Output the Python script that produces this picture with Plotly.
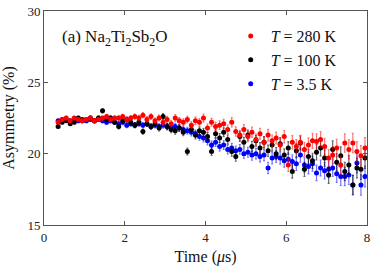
import plotly.graph_objects as go

time_us = [0.35, 0.45, 0.55, 0.65, 0.75, 0.85, 0.95, 1.05, 1.15, 1.25, 1.35, 1.45, 1.55, 1.65, 1.75,
           1.85, 1.95, 2.05, 2.15, 2.25, 2.35, 2.45, 2.55, 2.65, 2.75, 2.85, 2.95, 3.05, 3.15, 3.25,
           3.35, 3.45, 3.55, 3.65, 3.75, 3.85, 3.95, 4.05, 4.15, 4.25, 4.35, 4.45, 4.55, 4.65, 4.75,
           4.85, 4.95, 5.05, 5.15, 5.25, 5.35, 5.45, 5.55, 5.65, 5.75, 5.85, 5.95, 6.05, 6.15, 6.25,
           6.35, 6.45, 6.55, 6.65, 6.75, 6.85, 6.95, 7.05, 7.15, 7.25, 7.35, 7.45, 7.55, 7.65, 7.75,
           7.85, 7.95]

asym_280K = [22.2, 22.4, 22.5, 22.3, 22.5, 22.4, 22.3, 22.4, 22.5, 22.3, 22.4, 22.5, 22.6, 22.4, 22.5,
             22.5, 22.6, 22.4, 22.5, 22.6, 22.5, 22.7, 22.4, 22.6, 22.3, 22.5, 22.2, 22.4, 22.1, 22.5,
             22.3, 22.2, 22.4, 22.0, 22.3, 22.2, 22.5, 21.8, 22.2, 21.9, 22.0, 22.1, 21.7, 22.2, 21.55,
             21.3, 21.7, 21.2, 21.5, 21.0, 21.4, 20.8, 21.3, 20.9, 21.1, 20.6, 21.2, 19.2, 20.8, 20.5,
             20.8, 20.3, 20.6, 20.9, 20.85, 21.0, 20.5, 19.7, 19.9, 20.4, 19.2, 20.75, 20.3, 20.75, 20.15,
             19.85, 20.4]

asym_100K = [21.9, 22.2, 22.3, 22.1, 22.2, 22.5, 22.3, 22.4, 22.5, 22.3, 22.5, 23.0, 22.4, 22.5, 22.2,
             21.9, 22.3, 22.4, 22.2, 22.0, 22.2, 21.55, 22.1, 21.9, 22.1, 21.8, 22.6, 21.9, 21.7, 21.6,
             21.8, 21.5, 20.15, 21.7, 21.3, 21.6, 21.5, 21.2, 20.15, 21.4, 21.1, 21.5, 21.0, 20.15, 19.8,
             21.2, 20.8, 21.3, 20.5, 20.9, 20.4, 20.8, 20.2, 20.6, 20.0, 20.7, 19.9, 20.4, 18.75, 20.2,
             20.75, 18.9, 19.8, 19.5, 20.1, 20.4, 19.7, 18.5, 20.3, 19.4, 19.85, 18.75, 19.2, 17.8, 19.0,
             18.9, 19.7]

asym_3p5K = [22.3, 22.4, 22.4, 22.3, 22.4, 22.3, 22.4, 22.3, 22.4, 22.3, 22.4, 22.3, 22.2, 22.3, 22.2,
             22.1, 22.2, 22.0, 22.1, 22.0, 22.1, 22.0, 22.1, 21.9, 22.0, 21.9, 22.0, 21.9, 21.8, 21.9,
             21.8, 21.7, 21.6, 21.5, 21.4, 21.2, 21.1, 20.9, 20.6, 20.8, 20.5, 20.6, 20.3, 20.4, 20.2,
             20.3, 20.0, 20.1, 19.9, 20.0, 19.8, 19.9, 19.0, 19.7, 19.8, 19.7, 19.5, 19.6, 19.45, 19.3,
             19.9, 19.2, 19.1, 19.3, 18.65, 19.0, 18.8, 18.9, 19.0, 18.6, 18.4, 18.4, 18.5, 17.8, 19.35,
             17.8, 18.4]

asym_err = [0.11, 0.11, 0.11, 0.12, 0.12, 0.12, 0.13, 0.13, 0.13, 0.14, 0.14, 0.14, 0.15, 0.15, 0.15,
            0.16, 0.16, 0.17, 0.17, 0.18, 0.18, 0.18, 0.19, 0.19, 0.20, 0.20, 0.21, 0.21, 0.22, 0.23,
            0.23, 0.24, 0.24, 0.25, 0.26, 0.26, 0.27, 0.28, 0.28, 0.29, 0.30, 0.30, 0.31, 0.32, 0.33,
            0.34, 0.34, 0.35, 0.36, 0.37, 0.38, 0.39, 0.40, 0.41, 0.42, 0.43, 0.44, 0.45, 0.47, 0.48,
            0.49, 0.50, 0.51, 0.53, 0.54, 0.55, 0.57, 0.58, 0.60, 0.61, 0.63, 0.64, 0.66, 0.68, 0.69,
            0.71, 0.73]

legend_labels = ["<i>T</i>&nbsp;=&nbsp;280&nbsp;K", "<i>T</i>&nbsp;=&nbsp;100&nbsp;K", "<i>T</i>&nbsp;=&nbsp;3.5&nbsp;K"]

series = [
    (legend_labels[2], asym_3p5K, "#0000ff", "rgba(0,0,255,0.55)", 3),
    (legend_labels[1], asym_100K, "#000000", "rgba(0,0,0,0.6)", 2),
    (legend_labels[0], asym_280K, "#ff0000", "rgba(255,0,0,0.55)", 1),
]

FONT = "Liberation Serif"
fig = go.Figure()
for name, ys, col, ecol, rank in series:
    fig.add_trace(go.Scatter(
        x=time_us, y=ys, mode="markers", name=name, legendrank=rank,
        marker=dict(color=col, size=5),
        error_y=dict(type="data", array=asym_err, visible=True, color=ecol, thickness=1.2, width=1),
    ))

axis_common = dict(
    showgrid=False, zeroline=False, showline=True, linecolor="#555555", linewidth=1,
    mirror="ticks", ticks="inside", ticklen=4, tickcolor="#555555", automargin=False,
    tickfont=dict(family=FONT, size=13, color="#222222"),
)
fig.update_xaxes(range=[0, 8], tickvals=[0, 2, 4, 6, 8],
                 title=dict(text="Time (<i>μ</i>s)", font=dict(family=FONT, size=16, color="#111111")),
                 **axis_common)
fig.update_yaxes(range=[15, 30], tickvals=[15, 20, 25, 30],
                 title=dict(text="Asymmetry (%)", font=dict(family=FONT, size=16, color="#111111")),
                 **axis_common)

fig.add_annotation(
    text="(a) Na<sub>2</sub>Ti<sub>2</sub>Sb<sub>2</sub>O", xref="paper", yref="paper",
    x=0.05, y=0.875, xanchor="left", yanchor="middle", showarrow=False,
    font=dict(family=FONT, size=17, color="#111111"),
)

fig.update_layout(
    width=374, height=266,
    margin=dict(l=44, r=7, t=11, b=41),
    paper_bgcolor="white", plot_bgcolor="white",
    showlegend=True,
    legend=dict(x=0.578, y=0.962, xanchor="left", yanchor="top", bgcolor="rgba(0,0,0,0)",
                font=dict(family=FONT, size=16, color="#111111"), itemwidth=30,
                tracegroupgap=0),
)

fig.write_html("out.html", config={"displayModeBar": False},
               post_script="document.body.style.margin='0';document.body.style.overflow='hidden';")
